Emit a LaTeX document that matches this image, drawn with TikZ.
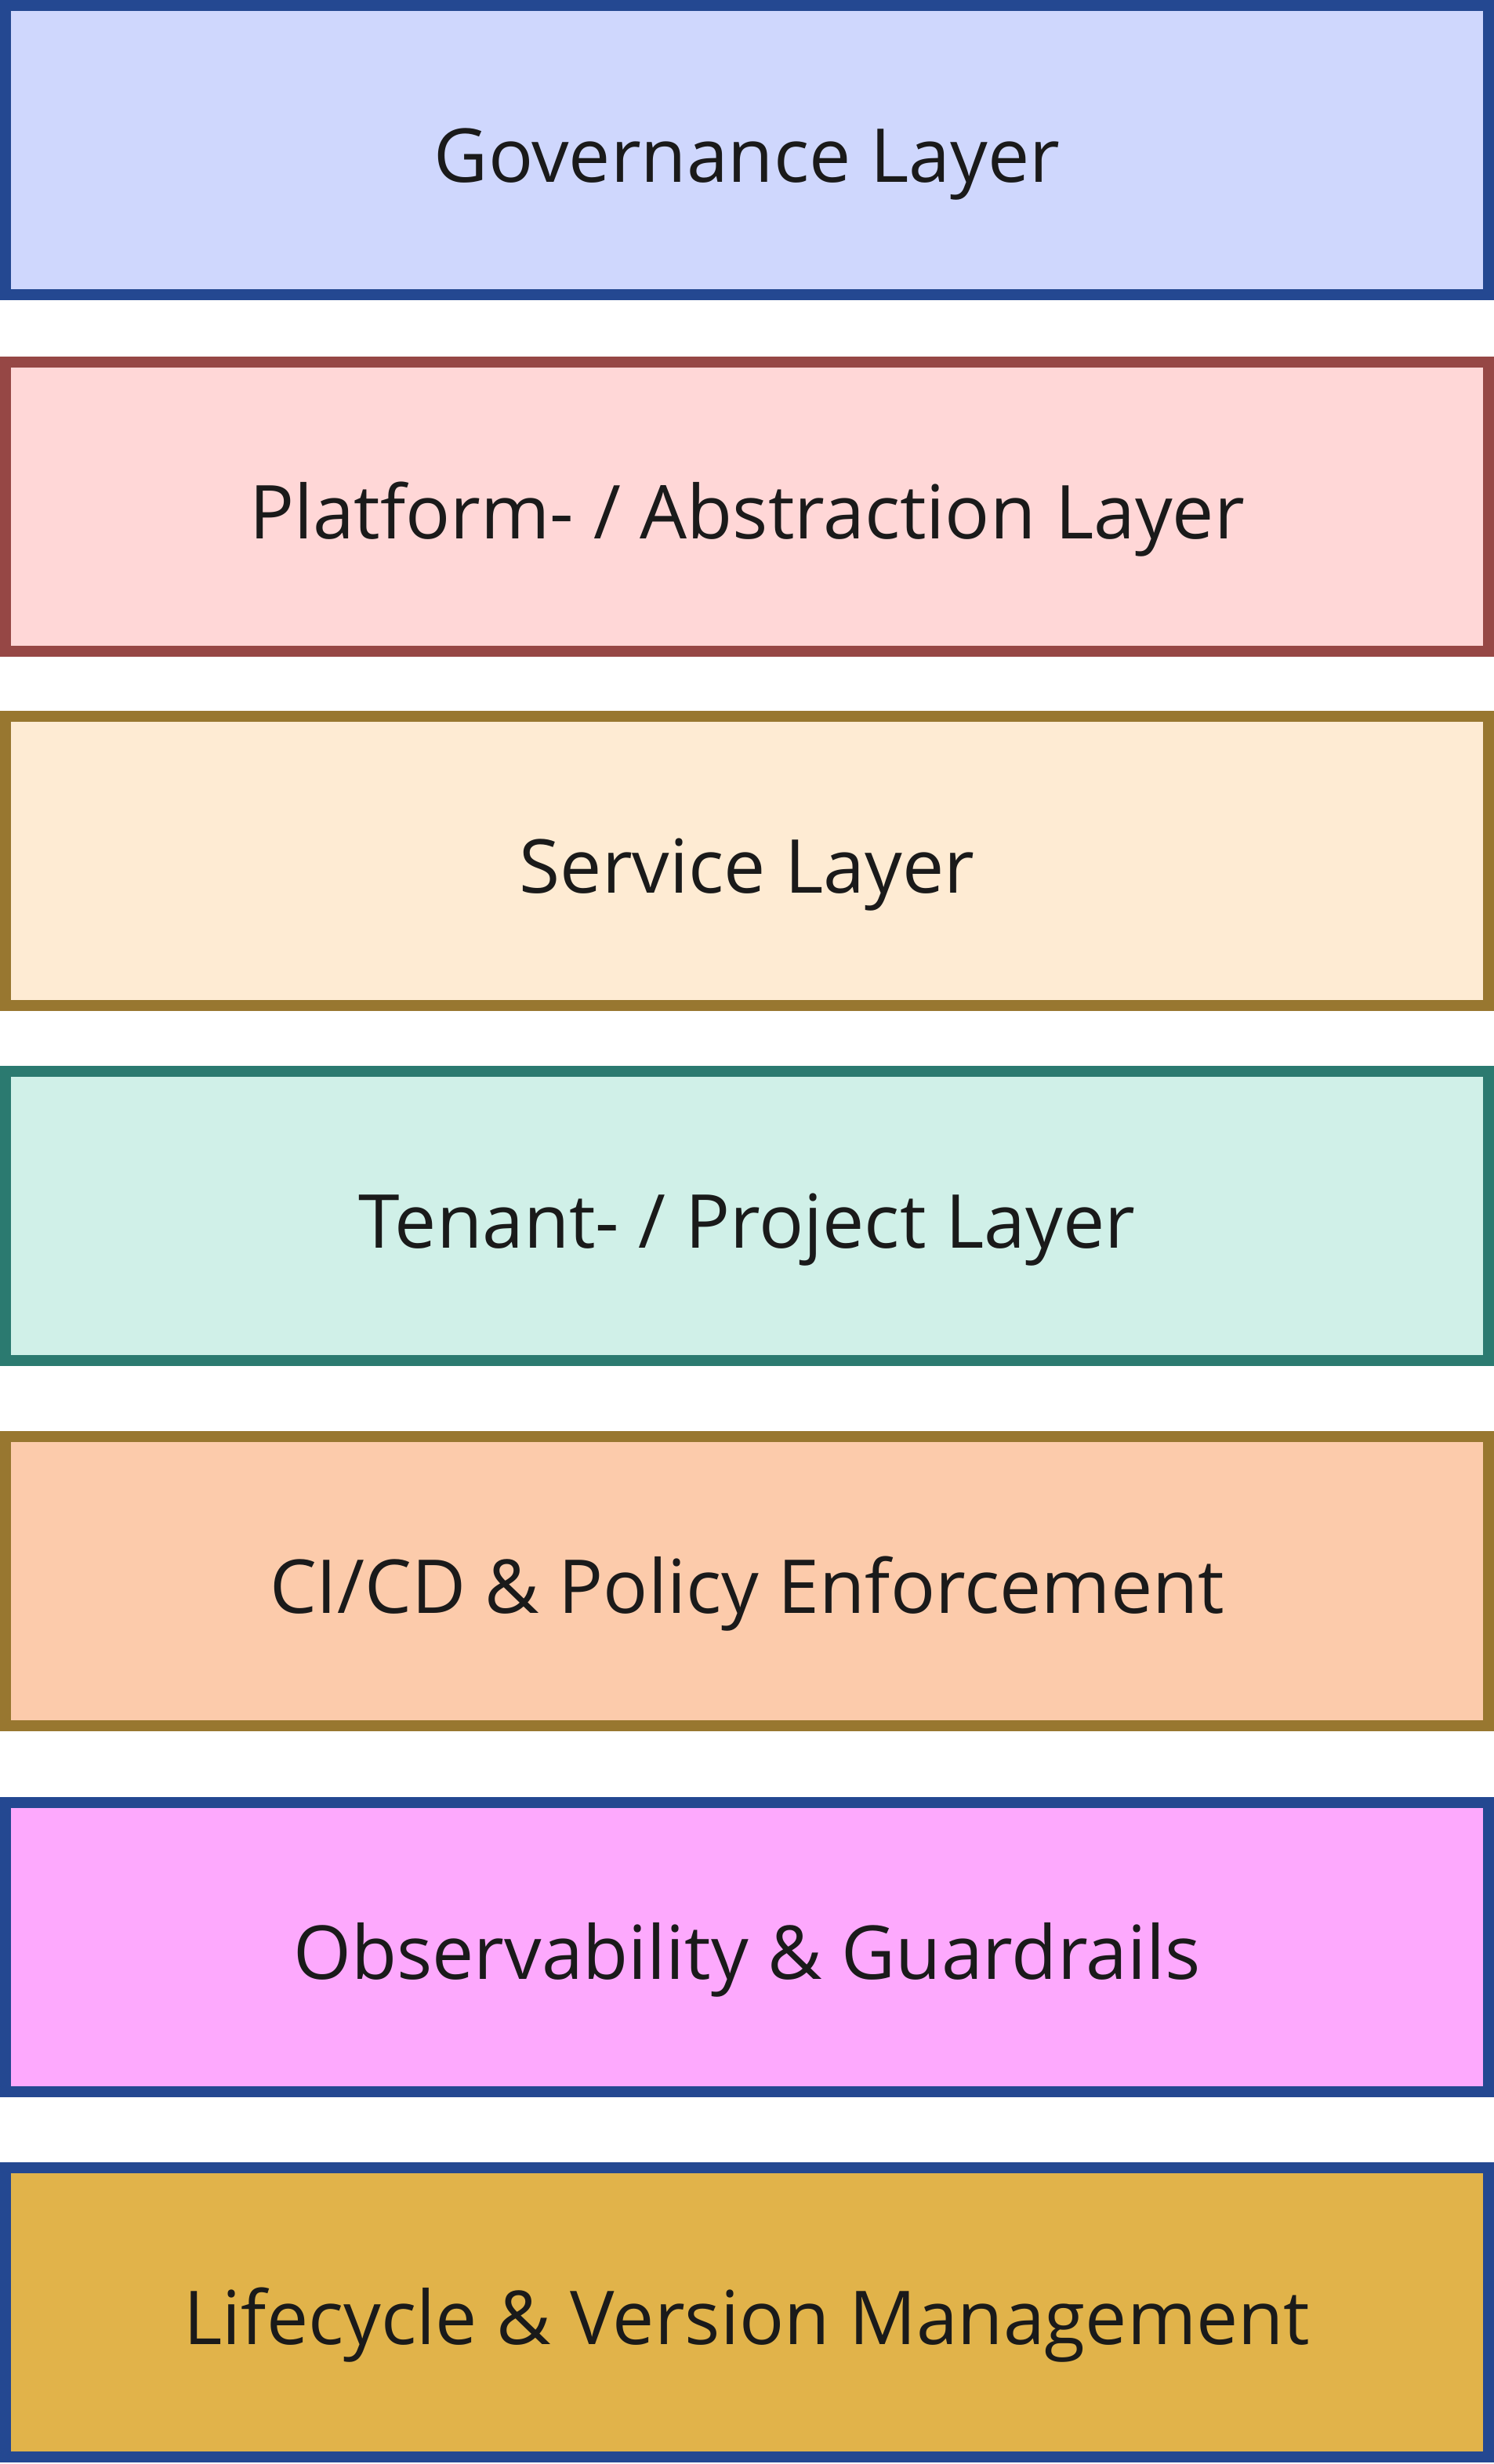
\documentclass[tikz,border=0pt]{standalone}
\usepackage{fontspec}
\setmainfont{Open Sans}
\definecolor{govfill}{RGB}{207,215,253}
\definecolor{govline}{RGB}{36,72,145}
\definecolor{platfill}{RGB}{255,215,215}
\definecolor{platline}{RGB}{150,71,69}
\definecolor{servfill}{RGB}{254,235,211}
\definecolor{servline}{RGB}{152,119,48}
\definecolor{tenfill}{RGB}{208,240,232}
\definecolor{tenline}{RGB}{43,122,112}
\definecolor{cicdfill}{RGB}{252,203,171}
\definecolor{obsfill}{RGB}{253,169,253}
\definecolor{lifefill}{RGB}{225,179,74}
\definecolor{labeltext}{RGB}{26,26,26}
\begin{document}
\begin{tikzpicture}[
    layer/.style={draw, rectangle, line width=0.14cm, inner sep=0pt,
      minimum width=18.92cm, minimum height=3.69cm, text=labeltext,
      font=\fontsize{27}{32}\selectfont, text height=0.82cm, text depth=0pt}
  ]
  \useasboundingbox (0,0) rectangle (19.06,-31.44);
  \node[layer, draw=govline, fill=govfill] (governance) at (9.53,-1.915) {Governance Layer};
  \node[layer, draw=platline, fill=platfill] (platform) at (9.53,-6.465) {Platform- / Abstraction Layer};
  \node[layer, draw=servline, fill=servfill] (service) at (9.53,-10.985) {Service Layer};
  \node[layer, draw=tenline, fill=tenfill] (tenant) at (9.53,-15.515) {Tenant- / Project Layer};
  \node[layer, draw=servline, fill=cicdfill] (cicd) at (9.53,-20.175) {CI/CD \& Policy Enforcement};
  \node[layer, draw=govline, fill=obsfill] (observability) at (9.53,-24.845) {Observability \& Guardrails};
  \node[layer, draw=govline, fill=lifefill] (lifecycle) at (9.53,-29.505) {Lifecycle \& Version Management};
\end{tikzpicture}
\end{document}
